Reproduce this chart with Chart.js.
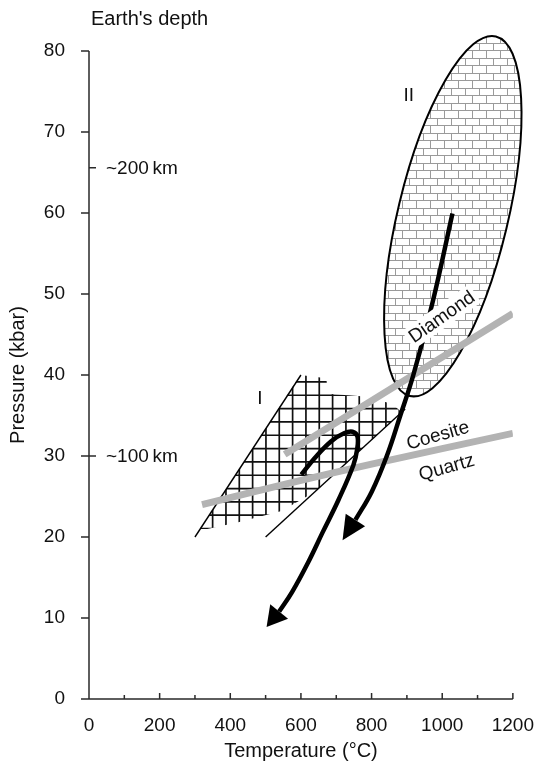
<!DOCTYPE html>
<html lang="en">
<head>
<meta charset="UTF-8">
<title>P-T paths</title>
<script src="https://cdn.jsdelivr.net/npm/chart.js@4"></script>
<style>
  html, body { margin: 0; padding: 0; background: #fff; }
  canvas { display: block; }
</style>
</head>
<body>
<canvas id="ptChart" width="541" height="766"></canvas>
<script>
// axes
const tempTicks = [0, 200, 400, 600, 800, 1000, 1200];
const tempMinorTicks = [100, 300, 500, 700, 900, 1100];
const pressureTicks = [0, 10, 20, 30, 40, 50, 60, 70, 80];
const depthValues = [65.6, 30];
const depthLabels = ['~200\u2009km', '~100\u2009km'];

// field I outline (hatched) and field II ellipse (top tip, bottom tip)
const fieldI = [[598, 40], [672, 39.6], [676, 37.7], [790, 37.3], [860, 36.4], [885, 35.4],
                [700, 28], [640, 25.6], [545, 23.2], [420, 21.8], [335, 21.0], [316, 21.0]];
const fieldII = [[1152, 81.8], [908, 37.4]];

// reaction curves and thin boundaries
const diamondLine = [[554, 30.2], [1200, 47.6]];
const quartzLine = [[320, 24.0], [600, 27.0], [800, 29.0], [1200, 32.8]];
const boundA = [[300, 20], [600, 40]];
const boundB = [[500, 20], [895, 35.8]];

// P-T paths (last point = base of arrow head) and arrow tips
const pathI = [[601, 27.7], [638, 29.7], [685, 31.8], [722, 32.8], [746, 33.0], [760, 32.4],
               [759, 30.8], [748.6, 28.9], [706.5, 24.6], [661.7, 20.6], [619.6, 16.8],
               [574.8, 13.2], [538.3, 10.8]];
const pathITip = [502.7, 8.9];
const pathII = [[1029.0, 59.95], [974.3, 49.25], [918.2, 40.0], [881.8, 35.07], [843.9, 30.1],
                [800.5, 25.6], [754.2, 22.1]];
const pathIITip = [717.8, 19.6];

// text
const curveNames = ['Diamond', 'Coesite', 'Quartz'];
const curveNameAt = [[998, 47.2], [987, 32.6], [1012, 28.65]];
const curveNameAngle = [-35, -16, -16];
const fieldNames = ['I', 'II'];
const fieldNameAt = [[484, 37.1], [905, 74.5]];

const FONT = '"Liberation Sans", Arial, Helvetica, sans-serif';
Chart.defaults.font.family = FONT;

const pts = arr => arr.map(([x, y]) => ({ x, y }));

const lineSet = (arr, color, width, order, tension) => ({
    data: pts(arr),
    showLine: true,
    borderColor: color,
    borderWidth: width,
    borderCapStyle: 'butt',
    pointRadius: 0,
    fill: false,
    tension: tension || 0,
    order: order
});

const drawingPlugin = {
    id: 'drawing',
    beforeDatasetsDraw(chart) {
        const ctx = chart.ctx;
        const X = v => chart.scales.x.getPixelForValue(v);
        const Y = v => chart.scales.y.getPixelForValue(v);

        // field I: square grid hatch
        ctx.save();
        ctx.beginPath();
        fieldI.forEach(([x, y], i) => i ? ctx.lineTo(X(x), Y(y)) : ctx.moveTo(X(x), Y(y)));
        ctx.closePath();
        ctx.clip();
        const cell = 13.33;
        const x0 = X(350), y0 = Y(37.5);
        ctx.strokeStyle = '#111';
        ctx.lineWidth = 1.7;
        ctx.beginPath();
        for (let k = -20; k <= 20; k++) {
            ctx.moveTo(x0 + k * cell, 300); ctx.lineTo(x0 + k * cell, 600);
            ctx.moveTo(150, y0 + k * cell); ctx.lineTo(450, y0 + k * cell);
        }
        ctx.stroke();
        ctx.restore();

        // field II: ellipse with brick pattern
        const [t, b] = fieldII.map(([x, y]) => [X(x), Y(y)]);
        const cx = (t[0] + b[0]) / 2, cy = (t[1] + b[1]) / 2;
        const rx = Math.hypot(t[0] - b[0], t[1] - b[1]) / 2;
        const rot = Math.atan2(t[1] - b[1], t[0] - b[0]);
        const ellipsePath = () => {
            ctx.beginPath();
            ctx.ellipse(cx, cy, rx, 55, rot, 0, Math.PI * 2);
        };
        ctx.save();
        ellipsePath();
        ctx.clip();
        ctx.fillStyle = '#fff';
        ctx.fill();
        ctx.strokeStyle = '#9a9a9a';
        ctx.lineWidth = 1;
        const bh = 7.5, bw = 14;
        ctx.beginPath();
        for (let r = 0; r < 60; r++) {
            const yy = Math.round(20 + r * bh);
            ctx.moveTo(360, yy + 0.5); ctx.lineTo(541, yy + 0.5);
            const off = (r % 2) ? bw / 2 : 0;
            const yn = Math.round(20 + (r + 1) * bh);
            for (let xx = 360 + off; xx < 541; xx += bw) {
                ctx.moveTo(Math.round(xx) + 0.5, yy); ctx.lineTo(Math.round(xx) + 0.5, yn);
            }
        }
        ctx.stroke();
        ctx.restore();
        ctx.save();
        ellipsePath();
        ctx.lineWidth = 2;
        ctx.strokeStyle = '#000';
        ctx.stroke();
        ctx.restore();
    },
    afterDatasetsDraw(chart) {
        const ctx = chart.ctx;
        const X = v => chart.scales.x.getPixelForValue(v);
        const Y = v => chart.scales.y.getPixelForValue(v);

        // arrow heads
        const head = (path, tip) => {
            const [bx, by] = [X(path[path.length - 1][0]), Y(path[path.length - 1][1])];
            const [tx, ty] = [X(tip[0]), Y(tip[1])];
            const L = Math.hypot(tx - bx, ty - by);
            const nx = -(ty - by) / L, ny = (tx - bx) / L;
            const hw = 11.5;
            ctx.beginPath();
            ctx.moveTo(tx, ty);
            ctx.lineTo(bx + nx * hw, by + ny * hw);
            ctx.lineTo(bx - nx * hw, by - ny * hw);
            ctx.closePath();
            ctx.fillStyle = '#000';
            ctx.fill();
        };
        head(pathI, pathITip);
        head(pathII, pathIITip);

        // curve names
        ctx.save();
        ctx.font = '19px ' + FONT;
        ctx.textAlign = 'center';
        ctx.textBaseline = 'middle';
        curveNames.forEach((name, i) => {
            ctx.save();
            ctx.translate(X(curveNameAt[i][0]), Y(curveNameAt[i][1]));
            ctx.rotate(curveNameAngle[i] * Math.PI / 180);
            if (i === 0) {
                const w = ctx.measureText(name).width;
                ctx.fillStyle = '#fff';
                ctx.fillRect(-w / 2 - 3, -11, w + 6, 22);
            }
            ctx.fillStyle = '#111';
            ctx.fillText(name, 0, 1);
            ctx.restore();
        });
        fieldNames.forEach((name, i) => {
            ctx.fillStyle = '#111';
            ctx.fillText(name, X(fieldNameAt[i][0]), Y(fieldNameAt[i][1]));
        });
        ctx.restore();
    },
    afterDraw(chart) {
        const ctx = chart.ctx;
        const X = v => chart.scales.x.getPixelForValue(v);
        const Y = v => chart.scales.y.getPixelForValue(v);
        const left = X(0), bottom = Y(0);
        ctx.save();
        ctx.strokeStyle = '#2a2a2a';
        ctx.lineWidth = 1.5;
        ctx.beginPath();
        // axis lines
        ctx.moveTo(left, Y(80)); ctx.lineTo(left, bottom);
        ctx.moveTo(left, bottom); ctx.lineTo(X(1200), bottom);
        // y ticks (outward)
        pressureTicks.forEach(v => { ctx.moveTo(left - 8, Y(v)); ctx.lineTo(left, Y(v)); });
        // x ticks (inward)
        tempTicks.forEach(v => { ctx.moveTo(X(v), bottom); ctx.lineTo(X(v), bottom - 6); });
        tempMinorTicks.forEach(v => { ctx.moveTo(X(v), bottom); ctx.lineTo(X(v), bottom - 4); });
        // depth marks
        depthValues.forEach(v => { ctx.moveTo(left, Y(v)); ctx.lineTo(left + 7, Y(v)); });
        ctx.stroke();

        ctx.fillStyle = '#111';
        ctx.font = '19px ' + FONT;
        ctx.textAlign = 'left';
        ctx.textBaseline = 'middle';
        depthValues.forEach((v, i) => ctx.fillText(depthLabels[i], left + 17, Y(v) + 1));
        ctx.font = '20px ' + FONT;
        ctx.fillText("Earth's depth", left + 2, 19);
        ctx.restore();
    }
};

new Chart(document.getElementById('ptChart'), {
    type: 'scatter',
    data: {
        datasets: [
            lineSet(pathI, '#000', 4.5, 1, 0.4),
            lineSet(pathII, '#000', 4.5, 1, 0.4),
            lineSet(diamondLine, '#b3b3b3', 7, 2),
            lineSet(quartzLine, '#b3b3b3', 7, 2, 0.3),
            lineSet(boundA, '#000', 1.4, 3),
            lineSet(boundB, '#000', 1.4, 3)
        ]
    },
    options: {
        responsive: false,
        animation: false,
        events: [],
        layout: { padding: { top: 51, right: 24, left: 0, bottom: 0 } },
        plugins: { legend: { display: false }, tooltip: { enabled: false } },
        scales: {
            x: {
                type: 'linear',
                min: 0,
                max: 1200,
                afterFit: s => { s.height = 67; },
                afterBuildTicks: s => { s.ticks = tempTicks.map(v => ({ value: v })); },
                grid: { display: false },
                border: { display: false },
                ticks: { padding: 7, color: '#111', font: { size: 19 }, callback: v => String(v) },
                title: {
                    display: true,
                    text: 'Temperature (°C)',
                    color: '#111',
                    font: { size: 20, lineHeight: 1.2 },
                    padding: { top: 0, bottom: 3 }
                }
            },
            y: {
                type: 'linear',
                min: 0,
                max: 80,
                afterFit: s => { s.width = 89; },
                afterBuildTicks: s => { s.ticks = pressureTicks.map(v => ({ value: v })); },
                grid: { display: false },
                border: { display: false },
                ticks: { padding: 16, color: '#111', font: { size: 19 }, callback: v => String(v) },
                title: {
                    display: true,
                    text: 'Pressure (kbar)',
                    color: '#111',
                    font: { size: 20, lineHeight: 1.2 },
                    padding: { top: 6, bottom: 0 }
                }
            }
        }
    },
    plugins: [drawingPlugin]
});
</script>
</body>
</html>
